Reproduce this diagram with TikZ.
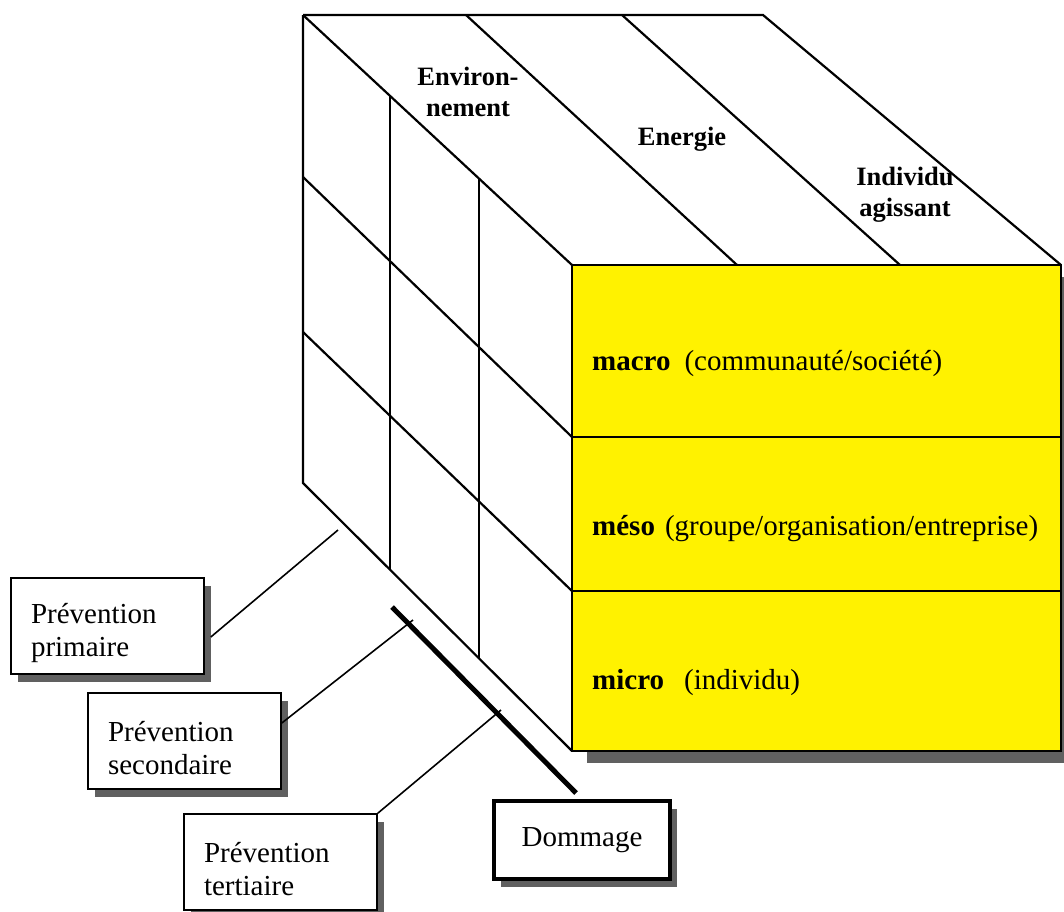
\documentclass[tikz,border=0pt]{standalone}
\usepackage{fontspec}
\setmainfont{Liberation Serif}
\usetikzlibrary{shadows}
\definecolor{ombre}{RGB}{96,96,96}
\newcommand\hautligne{\rule{0pt}{35pt}}
\tikzset{
  arete/.style={line width=2.2pt, line join=miter},
  trait/.style={line width=1.6pt},
  ombrebox/.style={fill=white, font=\fontsize{29}{33}\selectfont,
    drop shadow={shadow xshift=7pt, shadow yshift=-8pt, fill=ombre, opacity=1}},
  prevbox/.style={ombrebox, draw, line width=1.6pt, align=left, text width=153pt,
    inner xsep=20pt, inner ysep=0pt, minimum height=96pt},
  dommbox/.style={ombrebox, draw, line width=4.5pt, minimum width=176pt,
    minimum height=78pt, inner sep=0pt},
  axe/.style={font=\fontsize{26.5}{31}\selectfont\bfseries, align=center, inner sep=0pt},
  niveau/.style={font=\fontsize{29}{34}\selectfont, anchor=base west, inner sep=0pt}
}
\begin{document}
\begin{tikzpicture}[x=1pt, y=-1pt]
                    \useasboundingbox (0, 0) rectangle (1064, 911);
                    \draw[arete](303, 15) -- (763, 15) -- (1061, 265);
                    \draw[arete](466, 15) -- (737, 265);
                    \draw[arete](622, 15) -- (900, 265);
                    \draw[arete](303, 15) -- (572, 265);
                    \draw[arete](303, 15) -- (303, 483) -- (572, 751);
                    \draw[arete](303, 177) -- (572, 437);
                    \draw[arete](303, 332) -- (572, 591);
                    \draw[arete](390, 96) -- (390, 570);
                    \draw[arete](479, 179) -- (479, 658);
                    \fill[ombre](587, 277) rectangle (1076, 763);
                    \draw[arete, fill=yellow](572, 265) rectangle (1061, 437);
                    \draw[arete, fill=yellow](572, 437) rectangle (1061, 591);
                    \draw[arete, fill=yellow](572, 591) rectangle (1061, 751);
                    \node[axe] (env) at (468, 92) {Environ-\\nement};
                    \node[axe, anchor=base] (ener) at (682, 145) {Energie};
                    \node[axe] (indiv) at (905, 195) {Individu\\agissant};
                    \node[niveau] (macro) at (592, 370) {\textbf{macro}\hspace{14pt}(communauté/société)};
                    \node[niveau] (meso) at (592, 535) {\textbf{méso}\hspace{10pt}(groupe/organisation/entreprise)};
                    \node[niveau] (micro) at (592, 689) {\textbf{micro}\hspace{20pt}(individu)};
                    \node[prevbox] (prim) at (107.5, 626) {\hautligne Prévention\\primaire};
                    \node[prevbox] (sec) at (184.5, 741) {\hautligne Prévention\\secondaire};
                    \node[prevbox] (tert) at (280.5, 862) {\hautligne Prévention\\tertiaire};
                    \node[dommbox, xshift=-4pt] (domm) at (586, 840) {Dommage};
                    \coordinate (bordA) at (338, 530);
                    \coordinate (bordB) at (413, 620);
                    \coordinate (bordC) at (501, 710);
                    \coordinate (axeD1) at (392, 607);
                    \coordinate (axeD2) at (576, 793);
                    \draw[line width=5pt](axeD1) -- (axeD2);
                    \draw[trait]([xshift=6pt, yshift=-11pt]prim.east) -- (bordA);
                    \draw[trait]([yshift=18pt]sec.east) -- (bordB);
                    \draw[trait](tert.north east) -- (bordC);
                \end{tikzpicture}
\end{document}
